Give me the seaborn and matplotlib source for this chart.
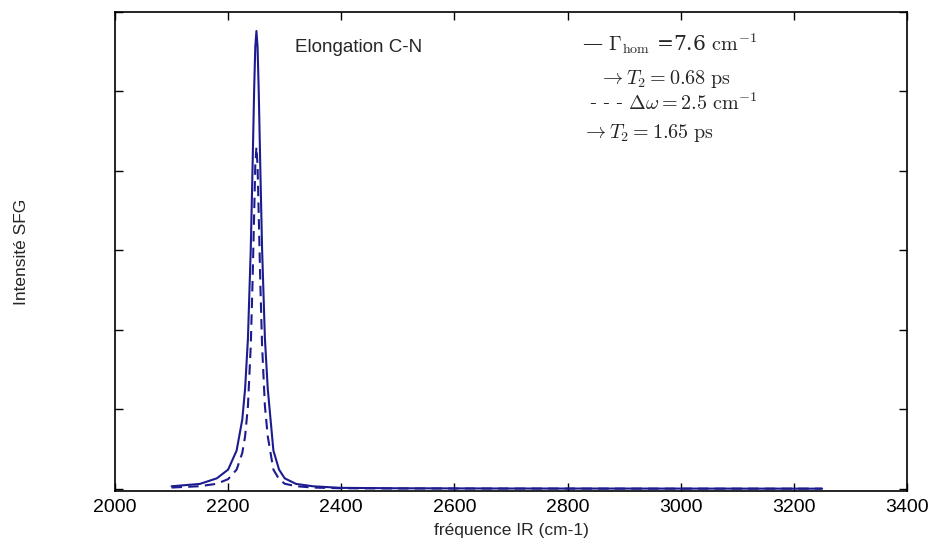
import numpy as np
import pandas as pd
import matplotlib
matplotlib.use('Agg')
import matplotlib.pyplot as plt
import seaborn as sns

# Values (y in arbitrary units, 0..6)
freq = [2100, 2150, 2180, 2200, 2215, 2225, 2230, 2235, 2240, 2243, 2246, 2248,
        2250, 2252, 2254, 2257, 2260, 2265, 2270, 2275, 2280, 2290, 2300, 2320,
        2350, 2400, 2500, 2700, 3000, 3250]
solid_int = [0.03, 0.06, 0.13, 0.24, 0.48, 0.87, 1.26, 1.89, 3.02, 3.99, 5.03, 5.56,
             5.76, 5.56, 5.03, 3.99, 3.02, 1.89, 1.26, 0.87, 0.48, 0.24, 0.13, 0.06,
             0.03, 0.01, 0.005, 0.002, 0.001, 0.0]
dashed_int = [0.014, 0.031, 0.062, 0.12, 0.24, 0.45, 0.66, 1.04, 1.80, 2.56, 3.46, 4.07,
              4.30, 4.07, 3.46, 2.56, 1.80, 1.04, 0.66, 0.45, 0.24, 0.12, 0.062, 0.031,
              0.014, 0.005, 0.002, 0.001, 0.0, 0.0]

xticks = [2000, 2200, 2400, 2600, 2800, 3000, 3200, 3400]
yticks = [0, 1, 2, 3, 4, 5, 6]

legend_lines = [r'— $\Gamma_{\rm hom}$ =7.6 $\mathrm{cm}^{-1}$',
                r'$\rightarrow T_2 = 0.68\ \mathrm{ps}$',
                r'- - - $\Delta\omega = 2.5\ \mathrm{cm}^{-1}$',
                r'$\rightarrow T_2 = 1.65\ \mathrm{ps}$']

df = pd.DataFrame({'freq': freq, 'solid': solid_int, 'dashed': dashed_int})

sns.set_style('ticks')
plt.rcParams['font.family'] = ['Liberation Sans', 'DejaVu Sans']
plt.rcParams['mathtext.fontset'] = 'cm'
plt.rcParams['xtick.direction'] = 'in'
plt.rcParams['ytick.direction'] = 'in'

fig = plt.figure(figsize=(9.35, 5.42), dpi=100)
ax = fig.add_axes([0.123, 0.094, 0.847, 0.884])

color = '#1c1c8f'
sns.lineplot(data=df, x='freq', y='solid', ax=ax, color=color, linewidth=1.5)
sns.lineplot(data=df, x='freq', y='dashed', ax=ax, color=color, linewidth=1.5,
             linestyle=(0, (5, 3)))

ax.set_xlim(2000, 3400)
ax.set_ylim(-0.03, 6)
ax.set_xticks(xticks)
ax.set_yticks(yticks)
ax.set_yticklabels([])
ax.tick_params(axis='both', which='both', top=True, right=True, length=6,
               width=1, labelsize=14, colors='black', pad=6)
for s in ax.spines.values():
    s.set_linewidth(1.2)
    s.set_color('black')

ax.set_xlabel('fréquence IR (cm-1)', fontsize=12.5, labelpad=5)
ax.set_ylabel('Intensité SFG', fontsize=12.5)
ax.yaxis.set_label_coords(-0.108, 0.5)

ax.text(2318, 5.55, 'Elongation C-N', fontsize=13.5, va='center')

leg_x = [2825, 2855, 2838, 2825]
leg_y = [5.6, 5.16, 4.85, 4.47]
for t, lx, ly in zip(legend_lines, leg_x, leg_y):
    ax.text(lx, ly, t, fontsize=14.5, va='center', family=['DejaVu Serif'])

fig.savefig('out.png', dpi=100)
